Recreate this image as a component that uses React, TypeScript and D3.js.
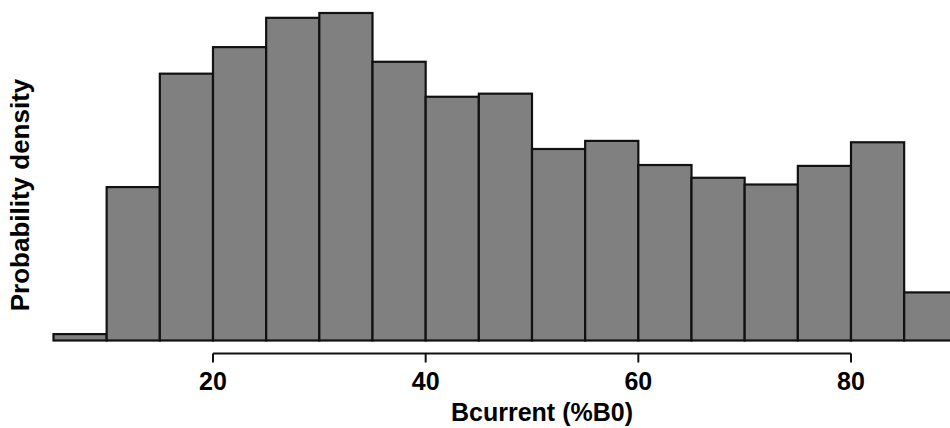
import React, { useEffect, useRef } from "react";
import * as d3 from "d3";

// histogram bins of Bcurrent (%B0), width 5
const binStarts = [5, 10, 15, 20, 25, 30, 35, 40, 45, 50, 55, 60, 65, 70, 75, 80, 85];
const binWidth = 5;
const densities = [
  0.00037, 0.0089, 0.01548, 0.01702, 0.01872, 0.019, 0.01617, 0.01414, 0.01432,
  0.01111, 0.01158, 0.01018, 0.00944, 0.00905, 0.01013, 0.0115, 0.00279,
];
const xTicks = [20, 40, 60, 80];
const xTitle = "Bcurrent (%B0)";
const yTitle = "Probability density";

const W = 950;
const H = 428;
const FONT = "'Liberation Sans', Arial, Helvetica, sans-serif";

export default function App() {
  const ref = useRef<SVGSVGElement>(null);

  useEffect(() => {
    const svg = d3.select(ref.current);
    svg.selectAll("*").remove();

    const x = d3.scaleLinear().domain([20, 80]).range([213, 851]);
    const y = d3.scaleLinear().domain([0, 0.019]).range([340.5, 13]);

    const bins = binStarts.map((s, i) => ({ x0: s, x1: s + binWidth, d: densities[i] }));

    svg.append("g")
      .selectAll("rect")
      .data(bins)
      .enter().append("rect")
      .attr("x", d => x(d.x0))
      .attr("y", d => y(d.d))
      .attr("width", d => x(d.x1) - x(d.x0))
      .attr("height", d => y(0) - y(d.d))
      .attr("fill", "#808080")
      .attr("stroke", "#111")
      .attr("stroke-width", 2.2);

    // R-style bottom axis: line spans first to last tick only
    const axisY = 353.5;
    const ax = svg.append("g").attr("stroke", "#111").attr("stroke-width", 2);
    ax.append("line")
      .attr("x1", x(xTicks[0])).attr("x2", x(xTicks[xTicks.length - 1]))
      .attr("y1", axisY).attr("y2", axisY);
    ax.selectAll("line.tick")
      .data(xTicks)
      .enter().append("line")
      .attr("class", "tick")
      .attr("x1", d => x(d)).attr("x2", d => x(d))
      .attr("y1", axisY).attr("y2", axisY + 9);

    svg.append("g")
      .selectAll("text")
      .data(xTicks)
      .enter().append("text")
      .attr("x", d => x(d))
      .attr("y", 390)
      .attr("text-anchor", "middle")
      .attr("font-family", FONT)
      .attr("font-weight", "bold")
      .attr("font-size", 25)
      .attr("fill", "#000")
      .text(d => d);

    svg.append("text")
      .attr("x", 542)
      .attr("y", 421)
      .attr("text-anchor", "middle")
      .attr("font-family", FONT)
      .attr("font-weight", "bold")
      .attr("font-size", 25)
      .text(xTitle);

    svg.append("text")
      .attr("transform", `translate(29,195) rotate(-90)`)
      .attr("text-anchor", "middle")
      .attr("font-family", FONT)
      .attr("font-weight", "bold")
      .attr("font-size", 26)
      .text(yTitle);
  }, []);

  return (
    <svg
      ref={ref}
      width={W}
      height={H}
      style={{ position: "absolute", left: 0, top: 0, background: "#fff" }}
    />
  );
}
